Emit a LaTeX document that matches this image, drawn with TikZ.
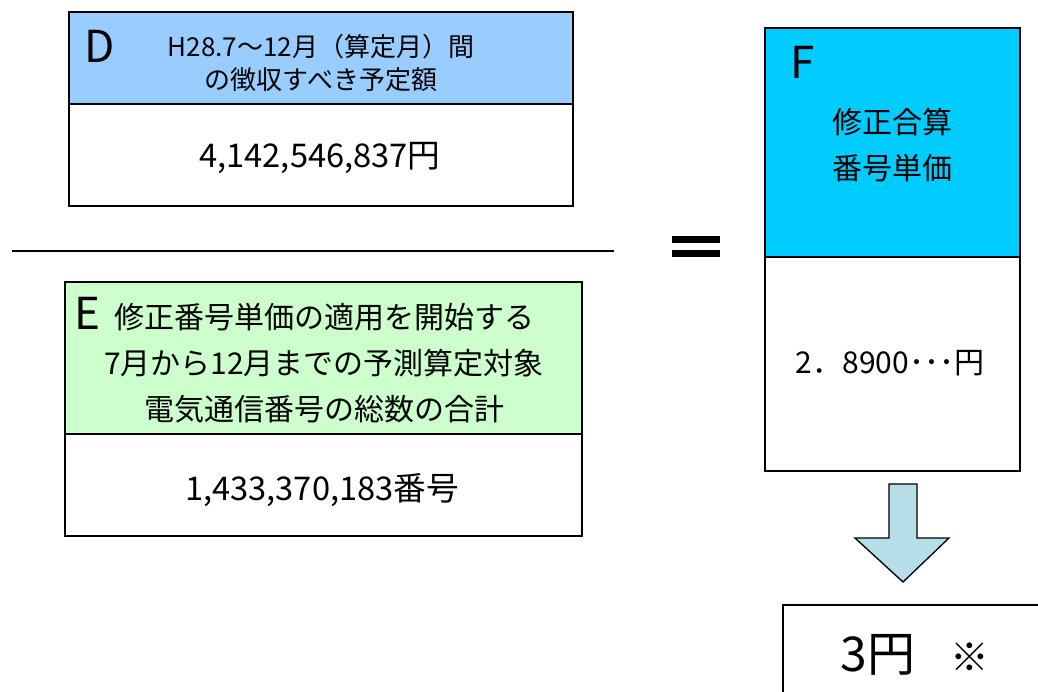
\documentclass[tikz,border=0pt]{standalone}
\usepackage{fontspec}
\setmainfont{Noto Sans CJK JP}

\definecolor{dblue}{HTML}{99CCFF}
\definecolor{egreen}{HTML}{CCFFCC}
\definecolor{fcyan}{HTML}{00CCFF}
\definecolor{arrowc}{HTML}{B7DEE8}

\tikzset{
  frame/.style={draw, line width=1.7pt},
  letter/.style={inner sep=0pt, font=\fontsize{33}{34}\selectfont},
  headtxt/.style={inner sep=0pt, align=center, font=\fontsize{19.5}{24.75}\selectfont},
  bodytxt/.style={inner sep=0pt, align=center, font=\fontsize{22.5}{34.5}\selectfont},
  valtxt/.style={inner sep=0pt, font=\fontsize{24.5}{28}\selectfont}
}

\begin{document}
\begin{tikzpicture}[x=0.75pt, y=-0.75pt]
    \useasboundingbox (0,0) rectangle (1038,692);

    % D box
    \draw [frame, fill=dblue] (69,12) rectangle (573,104);
    \draw [frame] (69,104) rectangle (573,206);
    \node [letter] (dl) at (100,46) {D};
    \node [headtxt] (dhead) at (321,63) {H28.7～12月（算定月）間\\の徴収すべき予定額};
    \node [valtxt] (dval) at (320,158) {4,142,546,837円};

    % Fraction bar
    \draw [line width=2pt] (12,251) -- (614,251);

    % E box
    \draw [frame, fill=egreen] (65,282) rectangle (582,434);
    \draw [frame] (65,434) rectangle (582,536);
    \node [letter] (el) at (87,313) {E};
    \node [bodytxt] (ehead) at (324,363) {修正番号単価の適用を開始する\\7月から12月までの予測算定対象\\電気通信番号の総数の合計};
    \node [valtxt] (eval) at (322,490) {1,433,370,183番号};

    % Equals sign
    \foreach \y in {239.5, 253} {
      \fill ({672},{\y-3.5}) rectangle ({720},{\y+3.5});
    }

    % F box
    \draw [frame, fill=fcyan] (765,28) rectangle (1020,257);
    \draw [frame] (765,257) rectangle (1020,471);
    \node [letter] (fl) at (803,62) {F};
    \node [bodytxt] (fhead) at (892,145) {修正合算\\番号単価};
    \node [bodytxt] (fval) at (890,363) {2．8900･･･円};

    % Down arrow
    \draw [line width=1pt, fill=arrowc]
      (889,484) -- (917,484) -- (917,538) -- (949,538) -- (903,582)
      -- (855,538) -- (889,538) -- cycle;

    % Result box
    \draw [frame] (783,712) -- (783,605) -- (1050,605);
    \node [inner sep=0pt, font=\fontsize{36}{40}\selectfont] (res) at (878,655) {3円};
    \node [inner sep=0pt, font=\fontsize{29}{32}\selectfont] (note) at (970,657) {※};
\end{tikzpicture}
\end{document}
